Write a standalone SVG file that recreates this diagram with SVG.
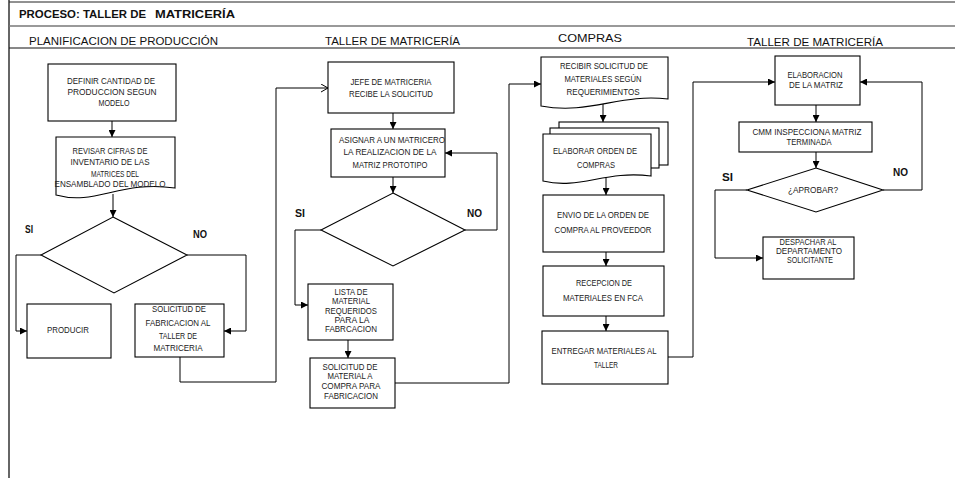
<svg xmlns="http://www.w3.org/2000/svg" width="955" height="480" viewBox="0 0 955 480">
<defs>
<style>
.frame{stroke:#000;stroke-width:1;fill:none}
.box{fill:#fff;stroke:#000;stroke-width:1.1}
.t{font-family:"Liberation Sans",Arial,sans-serif;font-size:9.5px;fill:#222;text-anchor:middle}
.ts{font-family:"Liberation Sans",Arial,sans-serif;font-size:9px;fill:#222;text-anchor:middle}
.lab{font-family:"Liberation Sans",Arial,sans-serif;font-size:10px;font-weight:bold;fill:#111}
.hdr{font-family:"Liberation Sans",Arial,sans-serif;font-size:11px;fill:#111}
.conn{fill:none;stroke:#000;stroke-width:1}
</style>
<marker id="ah" markerWidth="7" markerHeight="7" refX="7" refY="3.5" orient="auto" markerUnits="userSpaceOnUse">
<path d="M0,0 L7,3.5 L0,7 Z" fill="#000"/>
</marker>
<marker id="ao" markerWidth="9" markerHeight="9" refX="8" refY="4.5" orient="auto" markerUnits="userSpaceOnUse">
<path d="M1,0.5 L8,4.5 L1,8.5" fill="none" stroke="#000" stroke-width="1"/>
</marker>
</defs>
<rect width="955" height="480" fill="#fff"/>

<g id="frame">
<line x1="9" y1="0" x2="9" y2="478" stroke="#333" stroke-width="1.5"/>
<line x1="9" y1="2" x2="955" y2="2" stroke="#222" stroke-width="1"/>
<line x1="9" y1="26" x2="955" y2="26" stroke="#777" stroke-width="1.6"/>
<line x1="9" y1="48" x2="955" y2="48" stroke="#111" stroke-width="1"/>
<text class="lab" x="19" y="18" font-size="10.5" textLength="127" lengthAdjust="spacingAndGlyphs">PROCESO: TALLER DE</text>
<text class="lab" x="155" y="18" font-size="12.5" textLength="80" lengthAdjust="spacingAndGlyphs">MATRICERÍA</text>
<text class="hdr" x="29" y="45" textLength="189" lengthAdjust="spacingAndGlyphs">PLANIFICACION  DE PRODUCCIÓN</text>
<text class="hdr" x="325" y="45" textLength="135" lengthAdjust="spacingAndGlyphs">TALLER DE MATRICERÍA</text>
<text class="hdr" x="558" y="42" textLength="64" lengthAdjust="spacingAndGlyphs">COMPRAS</text>
<text class="hdr" x="747" y="46" textLength="136" lengthAdjust="spacingAndGlyphs">TALLER DE MATRICERÍA</text>
</g>

<g id="connectors">
<path class="conn" d="M112,121 V137" marker-end="url(#ah)"/>
<path class="conn" d="M113,194 V217" marker-end="url(#ah)"/>
<path class="conn" d="M41,255 H16 V331 H27" marker-end="url(#ah)"/>
<path class="conn" d="M187,255 H246 V331 H224" marker-end="url(#ah)"/>
<path class="conn" d="M180,357 V382 H276 V88 H328" marker-end="url(#ao)"/>
<path class="conn" d="M393,113 V129" marker-end="url(#ah)"/>
<path class="conn" d="M393,177 V193" marker-end="url(#ah)"/>
<path class="conn" d="M465,230 H497 V153 H445" marker-end="url(#ah)"/>
<path class="conn" d="M321,230 H295 V305 H308" marker-end="url(#ah)"/>
<path class="conn" d="M348,340 V358" marker-end="url(#ah)"/>
<path class="conn" d="M395,383 H509 V84 H541" marker-end="url(#ah)"/>
<path class="conn" d="M603,102 V122" marker-end="url(#ah)"/>
<path class="conn" d="M606,176 V195" marker-end="url(#ah)"/>
<path class="conn" d="M606,252 V266" marker-end="url(#ah)"/>
<path class="conn" d="M606,316 V331" marker-end="url(#ah)"/>
<path class="conn" d="M668,357 H693 V82 H775" marker-end="url(#ah)"/>
<path class="conn" d="M816,105 V122" marker-end="url(#ah)"/>
<path class="conn" d="M816,152 V168" marker-end="url(#ah)"/>
<path class="conn" d="M883,190 H922 V82 H860" marker-end="url(#ah)"/>
<path class="conn" d="M747,190 H715 V258 H763" marker-end="url(#ah)"/>
</g>

<g id="n-definir">
<rect class="box" x="48" y="64" width="128" height="57"/>
<text class="t" x="111" y="84" textLength="88" lengthAdjust="spacingAndGlyphs">DEFINIR CANTIDAD DE</text>
<text class="t" x="112" y="95" textLength="89" lengthAdjust="spacingAndGlyphs">PRODUCCION SEGUN</text>
<text class="t" x="114" y="106" textLength="31" lengthAdjust="spacingAndGlyphs">MODELO</text>
</g>

<g id="n-revisar">
<path class="box" d="M56,137 H175 V188 C120,180 96,206 56,195 Z"/>
<text class="t" x="110" y="154" textLength="75" lengthAdjust="spacingAndGlyphs">REVISAR CIFRAS DE</text>
<text class="t" x="110" y="165" textLength="79" lengthAdjust="spacingAndGlyphs">INVENTARIO DE LAS</text>
<text class="t" x="115" y="177" textLength="48" lengthAdjust="spacingAndGlyphs">MATRICES DEL</text>
<text class="t" x="110" y="187" textLength="111" lengthAdjust="spacingAndGlyphs">ENSAMBLADO DEL MODELO</text>
</g>

<g id="n-decision1">
<polygon class="box" points="113,217 187,255 114,293 41,255"/>
<text class="lab" x="25" y="233" textLength="8" lengthAdjust="spacingAndGlyphs">SI</text>
<text class="lab" x="193" y="238" textLength="14" lengthAdjust="spacingAndGlyphs">NO</text>
</g>

<g id="n-producir">
<rect class="box" x="27" y="304" width="84" height="54"/>
<text class="t" x="68" y="333" textLength="42" lengthAdjust="spacingAndGlyphs">PRODUCIR</text>
</g>

<g id="n-solicitud-fab">
<rect class="box" x="135" y="304" width="89" height="53"/>
<text class="t" x="179" y="312" textLength="54" lengthAdjust="spacingAndGlyphs">SOLICITUD DE</text>
<text class="t" x="178" y="326" textLength="65" lengthAdjust="spacingAndGlyphs">FABRICACION AL</text>
<text class="t" x="178" y="339" textLength="38" lengthAdjust="spacingAndGlyphs">TALLER DE</text>
<text class="t" x="178" y="351" textLength="49" lengthAdjust="spacingAndGlyphs">MATRICERIA</text>
</g>

<g id="n-jefe">
<rect class="box" x="328" y="62" width="126" height="51"/>
<text class="t" x="391" y="85" textLength="81" lengthAdjust="spacingAndGlyphs">JEFE DE MATRICERIA</text>
<text class="t" x="391" y="97" textLength="84" lengthAdjust="spacingAndGlyphs">RECIBE LA SOLICITUD</text>
</g>

<g id="n-asignar">
<rect class="box" x="331" y="129" width="114" height="48"/>
<text class="t" x="392" y="143" textLength="106" lengthAdjust="spacingAndGlyphs">ASIGNAR A UN MATRICERO</text>
<text class="t" x="390" y="155" textLength="93" lengthAdjust="spacingAndGlyphs">LA REALIZACION DE LA</text>
<text class="t" x="390" y="168" textLength="75" lengthAdjust="spacingAndGlyphs">MATRIZ PROTOTIPO</text>
</g>

<g id="n-decision2">
<polygon class="box" points="393,193 465,230 393,266 321,230"/>
<text class="lab" x="295" y="217" textLength="10" lengthAdjust="spacingAndGlyphs">SI</text>
<text class="lab" x="467" y="217" textLength="15" lengthAdjust="spacingAndGlyphs">NO</text>
</g>

<g id="n-lista">
<rect class="box" x="308" y="284" width="85" height="56"/>
<text class="ts" x="351" y="295" textLength="33" lengthAdjust="spacingAndGlyphs">LISTA DE</text>
<text class="ts" x="351" y="304" textLength="38" lengthAdjust="spacingAndGlyphs">MATERIAL</text>
<text class="ts" x="351" y="314" textLength="52" lengthAdjust="spacingAndGlyphs">REQUERIDOS</text>
<text class="ts" x="352" y="323" textLength="35" lengthAdjust="spacingAndGlyphs">PARA LA</text>
<text class="ts" x="351" y="332" textLength="52" lengthAdjust="spacingAndGlyphs">FABRCACION</text>
</g>

<g id="n-solicitud-mat">
<rect class="box" x="310" y="358" width="85" height="50"/>
<text class="ts" x="350" y="370" textLength="55" lengthAdjust="spacingAndGlyphs">SOLICITUD DE</text>
<text class="ts" x="350" y="379" textLength="45" lengthAdjust="spacingAndGlyphs">MATERIAL A</text>
<text class="ts" x="351" y="389" textLength="59" lengthAdjust="spacingAndGlyphs">COMPRA PARA</text>
<text class="ts" x="351" y="399" textLength="54" lengthAdjust="spacingAndGlyphs">FABRICACION</text>
</g>

<g id="n-recibir">
<path class="box" d="M541,57 H668 V99 C620,93 590,115 541,106 Z"/>
<text class="t" x="604" y="69" textLength="88" lengthAdjust="spacingAndGlyphs">RECIBIR SOLICITUD DE</text>
<text class="t" x="603" y="82" textLength="77" lengthAdjust="spacingAndGlyphs">MATERIALES SEGÚN</text>
<text class="t" x="603" y="95" textLength="73" lengthAdjust="spacingAndGlyphs">REQUERIMIENTOS</text>
</g>

<g id="n-elaborar-orden">
<rect class="box" x="559" y="122" width="109" height="43"/>
<rect class="box" x="550" y="128" width="109" height="40"/>
<path class="box" d="M543,134 H651 V176 C605,170 580,190 543,181 Z"/>
<text class="t" x="595" y="154" textLength="84" lengthAdjust="spacingAndGlyphs">ELABORAR ORDEN DE</text>
<text class="t" x="596" y="168" textLength="38" lengthAdjust="spacingAndGlyphs">COMPRAS</text>
</g>

<g id="n-envio">
<rect class="box" x="543" y="195" width="121" height="57"/>
<text class="t" x="603" y="218" textLength="92" lengthAdjust="spacingAndGlyphs">ENVIO DE LA ORDEN DE</text>
<text class="t" x="603" y="233" textLength="97" lengthAdjust="spacingAndGlyphs">COMPRA AL PROVEEDOR</text>
</g>

<g id="n-recepcion">
<rect class="box" x="543" y="266" width="121" height="50"/>
<text class="t" x="604" y="286" textLength="56" lengthAdjust="spacingAndGlyphs">RECEPCION DE</text>
<text class="t" x="603" y="301" textLength="80" lengthAdjust="spacingAndGlyphs">MATERIALES EN FCA</text>
</g>

<g id="n-entregar">
<rect class="box" x="542" y="331" width="126" height="53"/>
<text class="t" x="604" y="354" textLength="105" lengthAdjust="spacingAndGlyphs">ENTREGAR MATERIALES  AL</text>
<text class="t" x="606" y="368" textLength="24" lengthAdjust="spacingAndGlyphs">TALLER</text>
</g>

<g id="n-elaboracion">
<rect class="box" x="775" y="56" width="85" height="49"/>
<text class="ts" x="815" y="78" textLength="55" lengthAdjust="spacingAndGlyphs">ELABORACION</text>
<text class="ts" x="816" y="88" textLength="54" lengthAdjust="spacingAndGlyphs">DE LA MATRIZ</text>
</g>

<g id="n-cmm">
<rect class="box" x="739" y="122" width="133" height="30"/>
<text class="ts" x="807" y="135" textLength="109" lengthAdjust="spacingAndGlyphs">CMM INSPECCIONA MATRIZ</text>
<text class="ts" x="809" y="145" textLength="45" lengthAdjust="spacingAndGlyphs">TERMINADA</text>
</g>

<g id="n-aprobar">
<polygon class="box" points="816,168 883,190 816,212 747,190"/>
<text class="ts" x="813" y="193" textLength="50" lengthAdjust="spacingAndGlyphs">¿APROBAR?</text>
<text class="lab" x="722" y="181" textLength="11" lengthAdjust="spacingAndGlyphs">SI</text>
<text class="lab" x="893" y="176" textLength="15" lengthAdjust="spacingAndGlyphs">NO</text>
</g>

<g id="n-despachar">
<rect class="box" x="763" y="237" width="91" height="42"/>
<text class="ts" x="808" y="245" font-size="8.5" textLength="57" lengthAdjust="spacingAndGlyphs">DESPACHAR AL</text>
<text class="ts" x="809" y="254" font-size="8.5" textLength="66" lengthAdjust="spacingAndGlyphs">DEPARTAMENTO</text>
<text class="ts" x="810" y="263" font-size="8.5" textLength="46" lengthAdjust="spacingAndGlyphs">SOLICITANTE</text>
</g>
</svg>
